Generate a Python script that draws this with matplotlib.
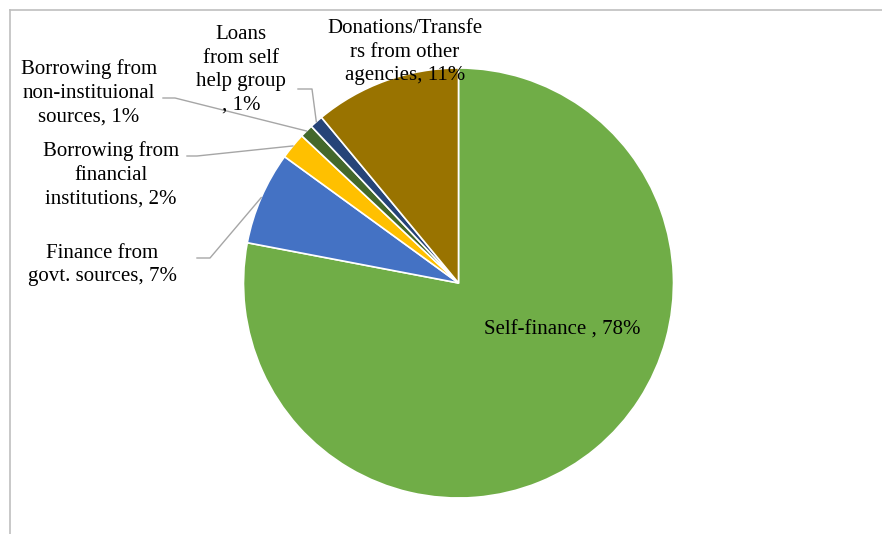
import matplotlib
matplotlib.use("Agg")
import matplotlib.pyplot as plt
import numpy as np

categories = ["Self-finance ", "Finance from\ngovt. sources", "Borrowing from\nfinancial\ninstitutions",
              "Borrowing from\nnon-instituional\nsources", "Loans\nfrom self\nhelp group\n",
              "Donations/Transfe\nrs from other\nagencies"]
values = [78, 7, 2, 1, 1, 11]
colors = ["#70AD47", "#4472C4", "#FFC000", "#43682B", "#264478", "#997300"]

plt.rcParams['font.family'] = ['Liberation Serif', 'DejaVu Serif']

W, H = 882, 534
fig = plt.figure(figsize=(W / 100, H / 100), dpi=100)
cx, cy, R = 458.5, 283.0, 215.0
ax = fig.add_axes([(cx - R) / W, (H - cy - R) / H, 2 * R / W, 2 * R / H])

wedges, _ = ax.pie(values, colors=colors, startangle=90, counterclock=False, radius=1,
                   wedgeprops=dict(edgecolor='white', linewidth=1.2))
ax.set_xlim(-1, 1)
ax.set_ylim(-1, 1)
ax.set_aspect('equal')
ax.axis('off')

def px(x, y):
    return ((x - cx) / R, (cy - y) / R)

fs = 15
# label layout (pixel positions: text centre, line start, elbow)
layout = {
    0: dict(text=(562, 330), line=None),
    1: dict(text=(102, 265), line=[(197, 258), (210, 258)]),
    2: dict(text=(111, 175), line=[(187, 156), (197, 156)]),
    3: dict(text=(89, 93), line=[(163, 98), (175, 98)]),
    4: dict(text=(241, 70), line=[(298, 89), (312, 89)]),
    5: dict(text=(405, 52), line=None),
}

for i, w in enumerate(wedges):
    lab = categories[i] + ", " + f"{values[i]}%"
    lay = layout[i]
    tx, ty = px(*lay['text'])
    ax.text(tx, ty, lab, ha='center', va='center', fontsize=fs, linespacing=1.32,
            color='#000000', clip_on=False, zorder=5)
    if lay['line'] is not None:
        mid = np.deg2rad((w.theta1 + w.theta2) / 2)
        ex, ey = 1.0 * np.cos(mid), 1.0 * np.sin(mid)
        pts = [px(*p) for p in lay['line']] + [(ex, ey)]
        xs, ys = zip(*pts)
        ax.plot(xs, ys, color='#A6A6A6', lw=1.0, clip_on=False, zorder=4)

# chart frame (gray border)
fig.add_artist(plt.Line2D([10 / W, 1], [1 - 10 / H, 1 - 10 / H], color='#BFBFBF', lw=1.2,
                          transform=fig.transFigure))
fig.add_artist(plt.Line2D([10 / W, 10 / W], [0, 1 - 10 / H], color='#BFBFBF', lw=1.2,
                          transform=fig.transFigure))

fig.savefig("out.png", dpi=100, facecolor='white')
